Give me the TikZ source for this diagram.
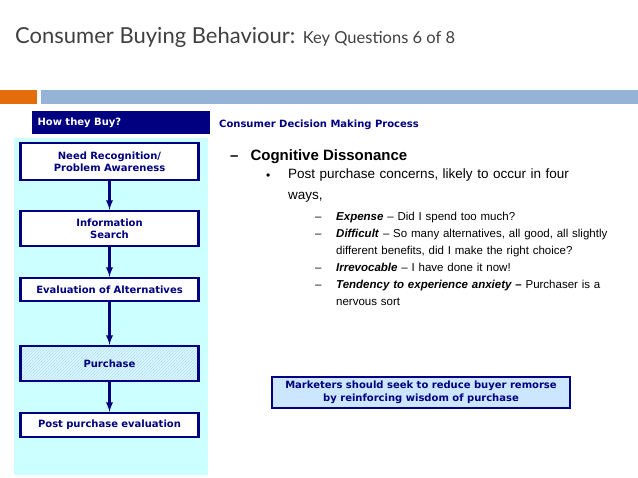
\documentclass[tikz,border=0pt]{standalone}
\usepackage{fontspec}
\setmainfont{Liberation Sans}
\newfontfamily\verd{DejaVu Sans}
\newfontfamily\gill{Lato}
\usetikzlibrary{positioning,patterns}
\definecolor{navy}{RGB}{0,0,128}
\definecolor{panel}{RGB}{204,255,255}
\definecolor{note}{RGB}{204,230,255}
\definecolor{bar}{RGB}{149,179,215}
\definecolor{orng}{RGB}{228,108,10}
\definecolor{ttl}{RGB}{64,64,64}
\tikzset{
  stepbox/.style={draw=navy,line width=2.4pt,fill=white,minimum width=178pt,text width=174pt,align=center,text=navy,font=\verd\bfseries\fontsize{10}{12}\selectfont,inner sep=1pt},
  flow/.style={navy,line width=2.2pt,-latex},
  sub/.style={anchor=north west,font=\fontsize{11.5}{17}\selectfont,text width=285pt,align=left,inner sep=0pt}
}
\begin{document}
\begin{tikzpicture}[x=1pt,y=-1pt]
\useasboundingbox (0,0) rectangle (638,478);
% title and bars
\node[anchor=west,text=ttl,font=\gill\fontsize{22}{24}\selectfont,inner sep=0pt] (title) at (15,37) {Consumer Buying Behaviour: {\fontsize{16.5}{18}\selectfont Key Questions 6 of 8}};
\fill[orng] (0,90) rectangle (37,104);
\fill[bar] (41,90) rectangle (638,104);
% left panel
\fill[navy] (32,111) rectangle (210,134);
\node[anchor=west,text=white,font=\verd\bfseries\fontsize{10}{12}\selectfont] (how) at (34,122.5) {How they Buy?};
\fill[panel] (14,138) rectangle (208,475);
\node[stepbox,minimum height=37pt] (need) at (109.5,161.5) {Need Recognition/\\Problem Awareness\\[3pt]};
\node[stepbox,minimum height=35pt] (info) at (109.5,228.5) {Information\\Search};
\node[stepbox,minimum height=23pt] (eval) at (109.5,289.5) {Evaluation of Alternatives};
\node[stepbox,minimum height=35pt,pattern=north east lines,pattern color=navy!18] (buy) at (109.5,363.5) {Purchase\\[12pt]};
\node[stepbox,minimum height=24pt] (post) at (109.5,425) {Post purchase evaluation};
\draw[flow] (need) -- (info);
\draw[flow] (info) -- (eval);
\draw[flow] (eval) -- (buy);
\draw[flow] (buy) -- (post);
% right side
\node[anchor=west,text=navy,font=\verd\bfseries\fontsize{10}{12}\selectfont,inner sep=0pt] (cdm) at (219,125) {Consumer Decision Making Process};
\node[anchor=west,font=\bfseries\fontsize{15}{17}\selectfont,inner sep=0pt] (cog) at (230,157) {--\hspace{12pt}Cognitive Dissonance};
\node[anchor=west,font=\fontsize{12}{14}\selectfont,inner sep=0pt] (dot) at (266,177) {•};
\node[anchor=north west,font=\fontsize{13.5}{21}\selectfont,text width=320pt,inner sep=0pt] (pp) at (288,169) {Post purchase concerns, likely to occur in four\\ways,};
\foreach \yy in {208,225,259,276}
  \node[anchor=north west,font=\fontsize{11.5}{17}\selectfont,inner sep=0pt] at (315,\yy) {\strut--};
\node[sub] (exp) at (336,208) {\strut\textbf{\textit{Expense}} -- Did I spend too much?};
\node[sub] (dif) at (336,225) {\strut\textbf{\textit{Difficult}} -- So many alternatives, all good, all slightly different benefits, did I make the right choice?};
\node[sub] (irr) at (336,259) {\strut\textbf{\textit{Irrevocable}} -- I have done it now!};
\node[sub] (anx) at (336,276) {\strut\textbf{\textit{Tendency to experience anxiety --}} Purchaser is a nervous sort};
\node[draw=navy,line width=2.4pt,fill=note,minimum width=298pt,minimum height=31pt,align=center,text=navy,font=\verd\bfseries\fontsize{10}{13}\selectfont,inner sep=1pt] (mkt) at (421,392.5) {Marketers should seek to reduce buyer remorse\\by reinforcing wisdom of purchase};
\end{tikzpicture}
\end{document}
